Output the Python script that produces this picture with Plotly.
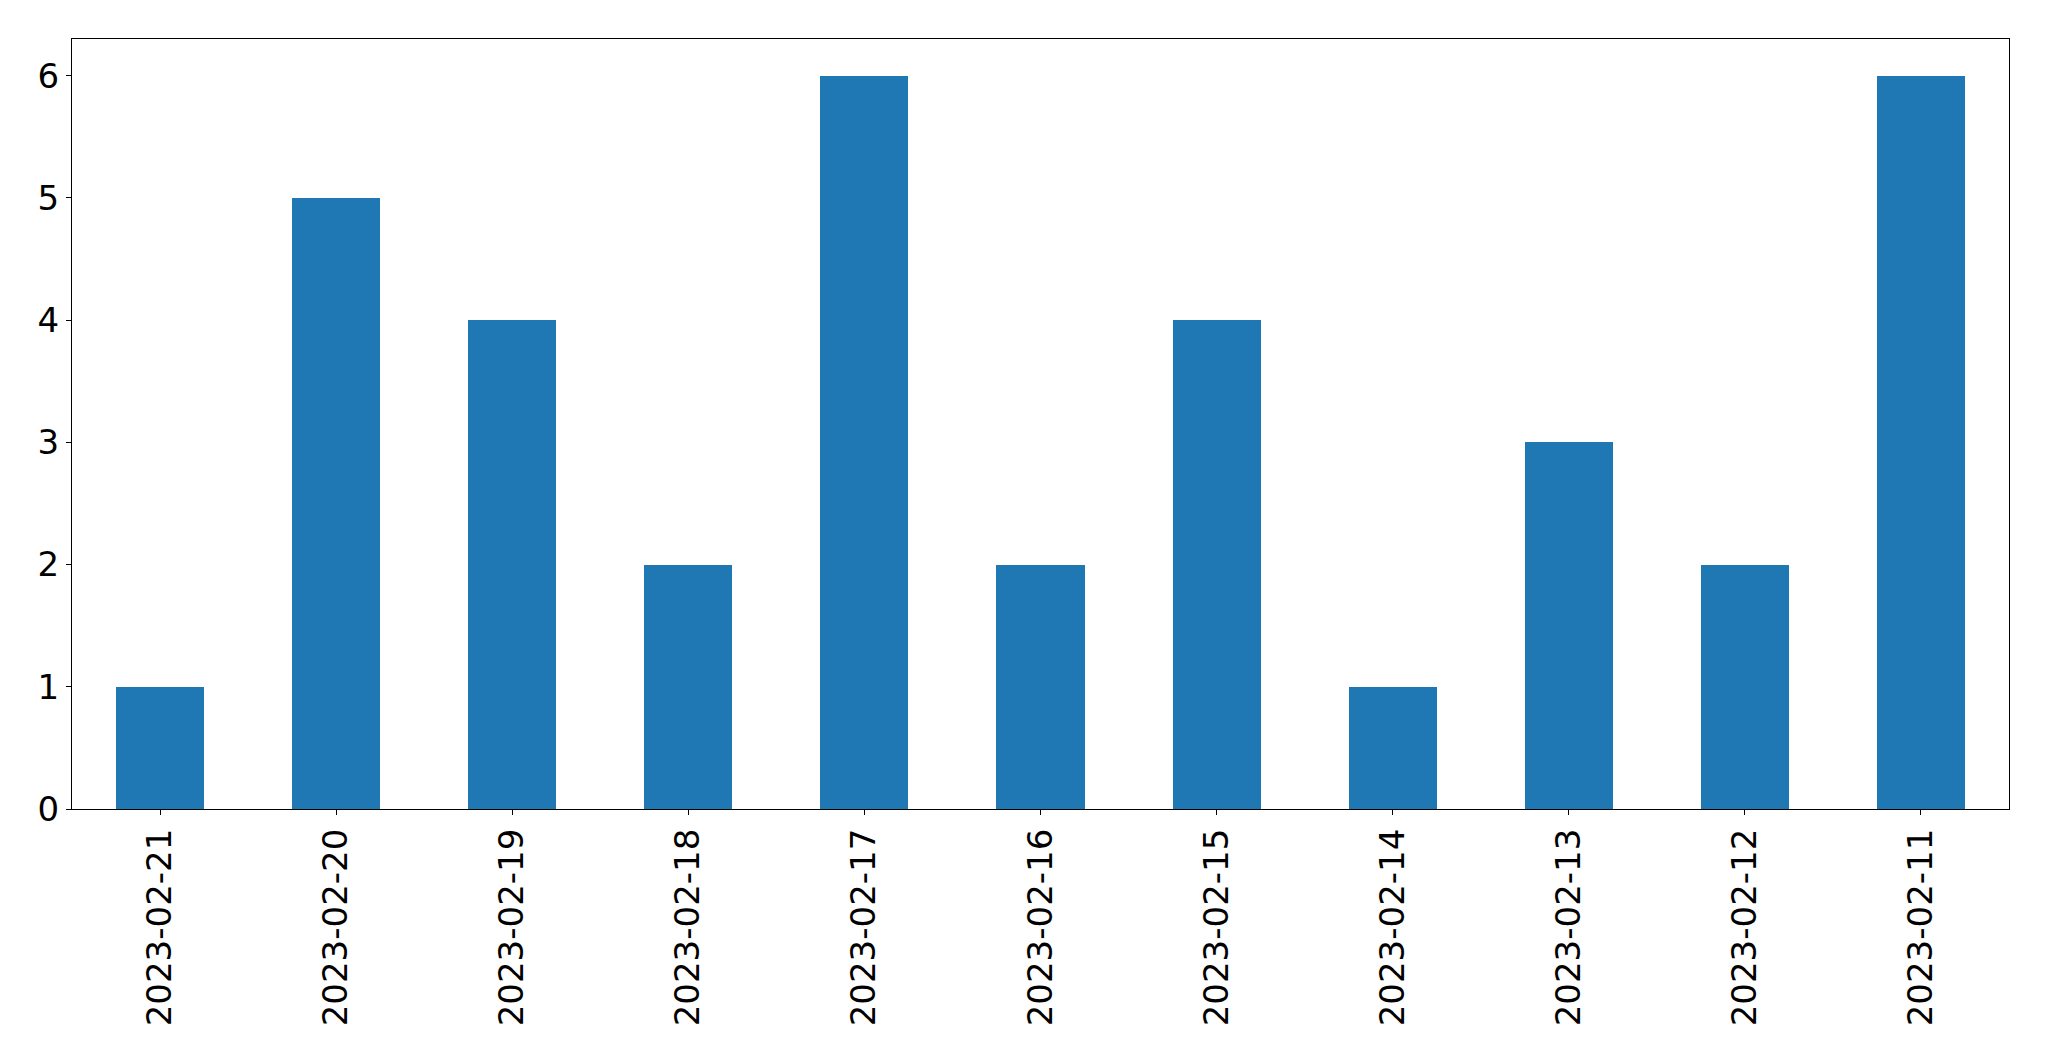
import plotly.graph_objects as go

dates = ["2023-02-21", "2023-02-20", "2023-02-19", "2023-02-18", "2023-02-17", "2023-02-16",
         "2023-02-15", "2023-02-14", "2023-02-13", "2023-02-12", "2023-02-11"]
counts = [1, 5, 4, 2, 6, 2, 4, 1, 3, 2, 6]
y_ticks = [0, 1, 2, 3, 4, 5, 6]

fig = go.Figure(go.Bar(x=dates, y=counts, width=0.5, marker=dict(color="#1f77b4", line=dict(width=0))))

axis_common = dict(showline=True, linecolor="black", linewidth=1.2, mirror=True,
                   ticks="outside", ticklen=5, tickwidth=1.2, tickcolor="black",
                   showgrid=False, zeroline=False, automargin=False,
                   tickfont=dict(family="DejaVu Sans", size=34, color="black"))

fig.update_xaxes(type="category", range=[-0.5, 10.5], tickangle=-90, **axis_common)
fig.update_yaxes(range=[0, 6.3], tickvals=y_ticks, **axis_common)

fig.update_layout(width=2049, height=1061, plot_bgcolor="white", paper_bgcolor="white",
                  margin=dict(l=72, r=40, t=39, b=252), showlegend=False, bargap=0)

fig.write_html("out.html", config={"responsive": False, "displayModeBar": False},
               post_script="document.body.style.margin='0px';document.body.style.overflow='hidden';")
